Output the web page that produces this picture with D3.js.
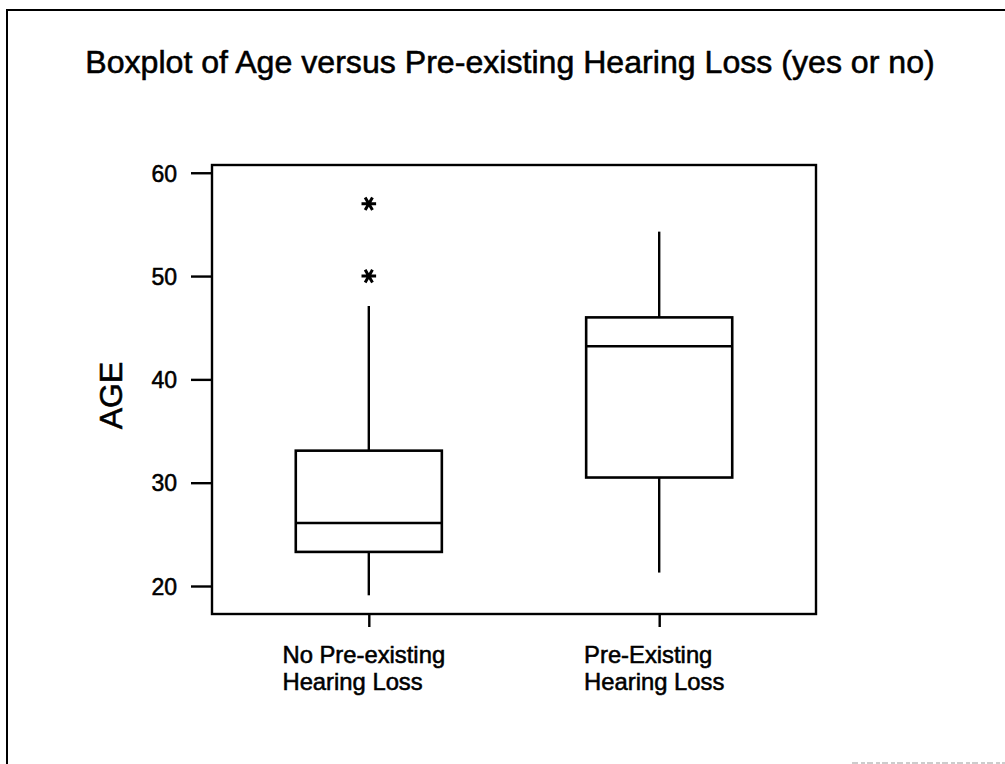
<!DOCTYPE html>
<html>
<head>
<meta charset="utf-8">
<script src="https://cdn.jsdelivr.net/npm/d3@7"></script>
<style>
  html, body { margin: 0; padding: 0; background: #fff; }
  text { font-family: "Liberation Sans", Arial, sans-serif; fill: #000; stroke: #000; stroke-width: 0.55px; }
</style>
</head>
<body>
<svg id="chart" width="1005" height="764"></svg>
<script>
// ---- Data ----
const categories = ["No Pre-existing\nHearing Loss", "Pre-Existing\nHearing Loss"];
const whiskerLow  = [19.1, 21.3];
const q1          = [23.3, 30.5];
const median      = [26.1, 43.2];
const q3          = [33.1, 46.0];
const whiskerHigh = [47.1, 54.3];
const outliers    = [[50, 57], []];
const yTicks      = [20, 30, 40, 50, 60];
const titleText   = "Boxplot of Age versus Pre-existing Hearing Loss (yes or no)";
const yLabel      = "AGE";

// ---- Layout ----
const svg = d3.select("#chart");
const plot = { left: 212, right: 816, top: 165, bottom: 614 };

const y = d3.scaleLinear().domain([17.29, 60.75]).range([plot.bottom, plot.top]);
const x = d3.scalePoint().domain(categories).range([plot.left, plot.right]).padding(0.54);
const boxW = x.step() * 0.503;
const LW = 2.4;

// outer frame (partial, as in the scan)
svg.append("line").attr("x1", 7).attr("x2", 7).attr("y1", 10).attr("y2", 764)
  .attr("stroke", "#000").attr("stroke-width", 2);
svg.append("line").attr("x1", 6).attr("x2", 1005).attr("y1", 10).attr("y2", 10)
  .attr("stroke", "#000").attr("stroke-width", 2);
svg.append("line").attr("x1", 852).attr("x2", 1005).attr("y1", 763).attr("y2", 763)
  .attr("stroke", "#999").attr("stroke-width", 1.2).attr("stroke-dasharray", "6,3,4,2");

// title
const title = svg.append("text")
  .attr("x", 510).attr("y", 73.3)
  .attr("text-anchor", "middle")
  .style("font-size", "25px")
  .text(titleText);
const tw = title.node().getComputedTextLength();
title.style("font-size", (25 * 850 / tw) + "px");

// plot frame
svg.append("rect")
  .attr("x", plot.left).attr("y", plot.top)
  .attr("width", plot.right - plot.left).attr("height", plot.bottom - plot.top)
  .attr("fill", "none").attr("stroke", "#000").attr("stroke-width", LW);

// y axis
const yAxis = d3.axisLeft(y).tickValues(yTicks).tickSize(21).tickPadding(14).tickFormat(d3.format("d"));
const yg = svg.append("g").attr("transform", `translate(${plot.left},0)`).call(yAxis);
yg.select(".domain").remove();
yg.selectAll(".tick line").attr("stroke", "#000").attr("stroke-width", LW);
yg.selectAll(".tick text")
  .style("font-size", "23px")
  .style("font-family", "'Liberation Sans', Arial, sans-serif")
  .attr("fill", "#000").attr("dy", "0.36em");

// y label
svg.append("text")
  .attr("transform", `translate(121.5,395.5) rotate(-90)`)
  .attr("text-anchor", "middle")
  .style("font-size", "32px")
  .text(yLabel);

// x axis ticks
const xAxis = d3.axisBottom(x).tickSize(13).tickFormat("");
const xg = svg.append("g").attr("transform", `translate(0,${plot.bottom})`).call(xAxis);
xg.select(".domain").remove();
xg.selectAll(".tick line").attr("stroke", "#000").attr("stroke-width", LW);

// x category labels (two lines, left aligned, block centred on tick)
categories.forEach((c) => {
  const lines = c.split("\n");
  const g = svg.append("g");
  const texts = lines.map((l, i) => g.append("text")
    .attr("y", 662.5 + i * 27.5)
    .style("font-size", "23.8px")
    .text(l));
  const maxW = d3.max(texts, t => t.node().getComputedTextLength());
  texts.forEach(t => t.attr("x", x(c) - maxW / 2 - 5));
});

// boxes
categories.forEach((c, i) => {
  const cx = x(c);
  const g = svg.append("g");
  // whiskers
  g.append("line").attr("x1", cx).attr("x2", cx).attr("y1", y(q3[i])).attr("y2", y(whiskerHigh[i]))
    .attr("stroke", "#000").attr("stroke-width", LW);
  g.append("line").attr("x1", cx).attr("x2", cx).attr("y1", y(q1[i])).attr("y2", y(whiskerLow[i]))
    .attr("stroke", "#000").attr("stroke-width", LW);
  // box
  g.append("rect")
    .attr("x", cx - boxW / 2).attr("y", y(q3[i]))
    .attr("width", boxW).attr("height", y(q1[i]) - y(q3[i]))
    .attr("fill", "none").attr("stroke", "#000").attr("stroke-width", LW + 0.2);
  // median
  g.append("line").attr("x1", cx - boxW / 2).attr("x2", cx + boxW / 2)
    .attr("y1", y(median[i])).attr("y2", y(median[i]))
    .attr("stroke", "#000").attr("stroke-width", LW);
  // outliers
  const sym = d3.symbol().type(d3.symbolAsterisk).size(150);
  outliers[i].forEach(v => {
    g.append("path")
      .attr("d", sym())
      .attr("transform", `translate(${cx},${y(v)}) rotate(90)`)
      .attr("fill", "none").attr("stroke", "#000").attr("stroke-width", 3);
  });
});
</script>
</body>
</html>
